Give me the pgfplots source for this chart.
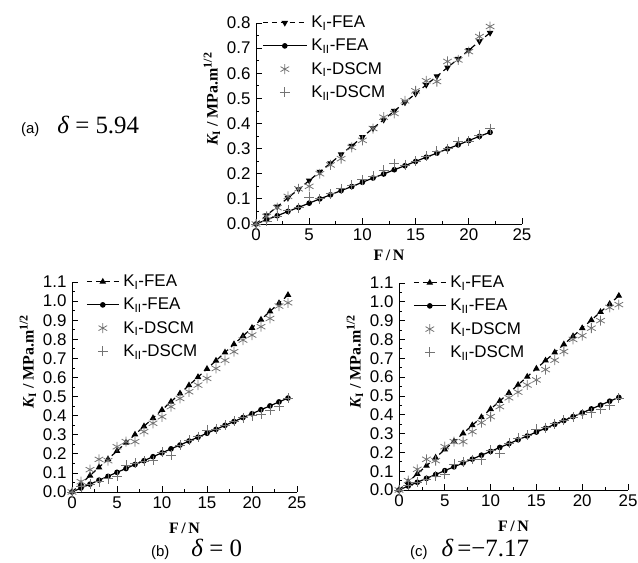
\documentclass[border=0pt]{standalone}
\usepackage{fontspec}
\setmainfont{Liberation Sans}
\newfontfamily\tnr{Liberation Serif}
\usepackage{pgfplots}
\usepackage{pgfplotstable}
\pgfplotsset{compat=1.18}

% plot (a), delta = 5.94
\pgfplotstableread{
x kife kiife kidscm kiidscm
0  0.000 0.000 0.000 0.000
1  0.035 0.017 0.030 0.010
2  0.069 0.033 0.065 0.030
3  0.104 0.050 0.110 0.055
4  0.138 0.066 0.140 0.065
5  0.173 0.083 0.150 0.107
6  0.208 0.100 0.200 0.100
7  0.242 0.116 0.235 0.120
8  0.277 0.133 0.260 0.140
9  0.311 0.149 0.305 0.155
10 0.346 0.166 0.333 0.176
11 0.381 0.183 0.380 0.190
12 0.415 0.199 0.425 0.213
13 0.450 0.216 0.440 0.240
14 0.484 0.232 0.490 0.235
15 0.519 0.249 0.530 0.250
16 0.554 0.266 0.570 0.270
17 0.588 0.282 0.567 0.290
18 0.623 0.299 0.647 0.300
19 0.657 0.315 0.653 0.328
20 0.692 0.332 0.686 0.330
21 0.727 0.349 0.746 0.354
22 0.761 0.365 0.786 0.380
}\tabA

% plot (b), delta = 0
\pgfplotstableread{
x kife kiife kidscm kiidscm
0  0.000 0.000 0.000 0.000
1  0.043 0.021 0.054 0.028
2  0.086 0.041 0.117 0.040
3  0.129 0.062 0.171 0.054
4  0.172 0.082 0.164 0.070
5  0.215 0.103 0.237 0.082
6  0.258 0.123 0.264 0.140
7  0.301 0.144 0.264 0.150
8  0.344 0.164 0.316 0.160
9  0.387 0.185 0.360 0.165
10 0.430 0.205 0.394 0.210
11 0.473 0.226 0.447 0.192
12 0.516 0.246 0.490 0.245
13 0.559 0.267 0.525 0.270
14 0.602 0.287 0.560 0.290
15 0.645 0.308 0.595 0.325
16 0.688 0.328 0.647 0.330
17 0.731 0.349 0.690 0.350
18 0.774 0.369 0.735 0.370
19 0.817 0.390 0.796 0.390
20 0.860 0.410 0.822 0.400
21 0.903 0.431 0.866 0.408
22 0.946 0.451 0.909 0.430
23 0.989 0.472 0.974 0.450
24 1.032 0.492 0.991 0.490
}\tabB

% plot (c), delta = -7.17
\pgfplotstableread{
x kife kiife kidscm kiidscm
0  0.000 0.000 0.000 0.000
1  0.043 0.021 0.050 0.025
2  0.086 0.041 0.110 0.042
3  0.129 0.062 0.163 0.055
4  0.172 0.082 0.156 0.072
5  0.215 0.103 0.230 0.085
6  0.258 0.123 0.257 0.138
7  0.301 0.144 0.257 0.150
8  0.344 0.164 0.310 0.162
9  0.387 0.185 0.358 0.160
10 0.430 0.205 0.390 0.212
11 0.473 0.226 0.443 0.195
12 0.516 0.246 0.490 0.248
13 0.559 0.267 0.520 0.275
14 0.602 0.287 0.558 0.290
15 0.645 0.308 0.585 0.322
16 0.688 0.328 0.640 0.332
17 0.731 0.349 0.690 0.352
18 0.774 0.369 0.736 0.372
19 0.817 0.390 0.800 0.388
20 0.860 0.410 0.820 0.402
21 0.903 0.431 0.860 0.410
22 0.946 0.451 0.900 0.428
23 0.989 0.472 0.970 0.452
24 1.032 0.492 0.985 0.488
}\tabC

\pgfplotsset{
  kstyle/.style={
    scale only axis, anchor=south west,
    axis lines=left, axis line style={-, line width=0.9pt},
    xmin=0, xmax=25, ymin=0,
    xtick={0,5,...,25}, minor x tick num=1, minor y tick num=1,
    tick align=inside, major tick length=6bp, minor tick length=3bp,
    every tick/.style={black, line width=0.8pt},
    tick label style={font=\fontsize{17}{17}\selectfont},
    /pgf/number format/assume math mode=true,
    yticklabel style={xshift=-2bp, /pgf/number format/fixed, /pgf/number format/fixed zerofill, /pgf/number format/precision=1},
    xticklabel style={yshift=-1bp},
    xlabel={\tnr\bfseries F\,/\,N},
    ylabel={\tnr\bfseries\itshape K\textsubscript{\upshape I}\upshape\ / MPa.m\raisebox{6pt}{\fontsize{12}{12}\selectfont 1/2}},
    label style={font=\fontsize{16}{16}\selectfont},
    xlabel style={yshift=-3bp},
    legend cell align=left,
    legend style={draw=none, fill=none, at={(0,1)}, anchor=north west,
      font=\fontsize{17}{17}\selectfont, row sep=6bp, inner sep=0pt,
      nodes={inner xsep=4bp}},
  },
  fea1/.style={black, line width=1.2pt, dash pattern=on 5pt off 4pt, mark=triangle*, mark size=2.7pt, mark options={solid}},
  fea2/.style={black, line width=1.2pt, mark=*, mark size=2.2pt},
  dscm1/.style={only marks, black!55, mark=asterisk, mark size=5pt, mark options={line width=0.8pt}},
  dscm2/.style={only marks, black!55, mark=+, mark size=5pt, mark options={line width=0.8pt}},
}

\begin{document}
\begin{tikzpicture}
\useasboundingbox (0,0) rectangle (638bp,563bp);

% (a)
\begin{axis}[kstyle, at={(256bp,339bp)}, width=266bp, height=201bp,
  ymax=0.8, ytick={0,0.1,...,0.8},
  ylabel style={at={(ticklabel cs:0.62)}},
  legend style={xshift=6bp, yshift=9bp},
  legend image code/.code={\draw[mark repeat=2, mark phase=2, #1] plot coordinates {(0bp,0bp) (22bp,0bp) (44bp,0bp)};}]
\addplot[fea1, mark options={solid, rotate=180}] table[x=x, y=kife] {\tabA};
\addlegendentry{K\textsubscript{I}-FEA}
\addplot[fea2] table[x=x, y=kiife] {\tabA};
\addlegendentry{K\textsubscript{II}-FEA}
\addplot[dscm1] table[x=x, y=kidscm] {\tabA};
\addlegendentry{K\textsubscript{I}-DSCM}
\addplot[dscm2] table[x=x, y=kiidscm] {\tabA};
\addlegendentry{K\textsubscript{II}-DSCM}
\end{axis}

% (b)
\begin{axis}[kstyle, at={(72bp,71bp)}, width=225bp, height=210bp,
  ymax=1.1, ytick={0,0.1,...,1.1},
  ylabel style={at={(ticklabel cs:0.62)}},
  xlabel style={yshift=-5bp},
  legend style={xshift=14bp, yshift=9bp},
  legend image code/.code={\draw[mark repeat=2, mark phase=2, #1] plot coordinates {(0bp,0bp) (16bp,0bp) (32bp,0bp)};}]
\addplot[fea1] table[x=x, y=kife] {\tabB};
\addlegendentry{K\textsubscript{I}-FEA}
\addplot[fea2] table[x=x, y=kiife] {\tabB};
\addlegendentry{K\textsubscript{II}-FEA}
\addplot[dscm1] table[x=x, y=kidscm] {\tabB};
\addlegendentry{K\textsubscript{I}-DSCM}
\addplot[dscm2] table[x=x, y=kiidscm] {\tabB};
\addlegendentry{K\textsubscript{II}-DSCM}
\end{axis}

% (c)
\begin{axis}[kstyle, at={(399bp,73bp)}, width=229bp, height=207bp,
  ymax=1.1, ytick={0,0.1,...,1.1},
  ylabel style={at={(ticklabel cs:0.62)}},
  xlabel style={yshift=-5bp},
  legend style={xshift=14bp, yshift=9bp},
  legend image code/.code={\draw[mark repeat=2, mark phase=2, #1] plot coordinates {(0bp,0bp) (16bp,0bp) (32bp,0bp)};}]
\addplot[fea1] table[x=x, y=kife] {\tabC};
\addlegendentry{K\textsubscript{I}-FEA}
\addplot[fea2] table[x=x, y=kiife] {\tabC};
\addlegendentry{K\textsubscript{II}-FEA}
\addplot[dscm1] table[x=x, y=kidscm] {\tabC};
\addlegendentry{K\textsubscript{I}-DSCM}
\addplot[dscm2] table[x=x, y=kiidscm] {\tabC};
\addlegendentry{K\textsubscript{II}-DSCM}
\end{axis}

% sub-captions
\node[anchor=base west, inner sep=0pt] at (21bp,429bp) {\fontsize{15}{15}\selectfont (a)\hspace{18bp}{\tnr\fontsize{25}{25}\selectfont\itshape δ\upshape\ = 5.94}};
\node[anchor=base west, inner sep=0pt] at (151bp,7bp) {\fontsize{15}{15}\selectfont (b)\hspace{22bp}{\tnr\fontsize{25}{25}\selectfont\itshape δ\upshape\ = 0}};
\node[anchor=base west, inner sep=0pt] at (410bp,7bp) {\fontsize{15}{15}\selectfont (c)\hspace{14bp}{\tnr\fontsize{25}{25}\selectfont\itshape δ\upshape\,=−7.17}};
\end{tikzpicture}
\end{document}
